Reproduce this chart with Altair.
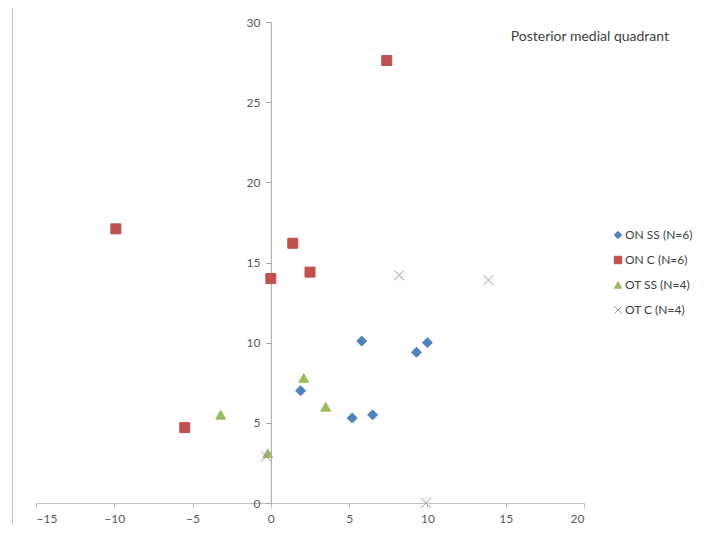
import altair as alt
import pandas as pd

series_names = ["ON SS (N=6)", "ON C (N=6)", "OT SS (N=4)", "OT C (N=4)"]

on_ss_x = [1.9, 5.2, 6.5, 5.8, 9.3, 10.0]
on_ss_y = [7.0, 5.3, 5.5, 10.1, 9.4, 10.0]

on_c_x = [-9.9, -5.5, 0.0, 1.4, 2.5, 7.4]
on_c_y = [17.1, 4.7, 14.0, 16.2, 14.4, 27.6]

ot_ss_x = [-3.2, -0.2, 2.1, 3.5]
ot_ss_y = [5.5, 3.1, 7.8, 6.0]

ot_c_x = [-0.3, 8.2, 13.9, 9.9]
ot_c_y = [2.9, 14.2, 13.9, 0.0]

colors = ["#4F81BD", "#C0504D", "#9BBB59", "#A594C6"]
fills = ["#4F81BD", "#C0504D", "#9BBB59", "transparent"]
shapes = ["diamond", "square", "triangle-up", "M-1,-1L1,1M-1,1L1,-1"]

rows = []
for name, xs, ys in zip(series_names,
                        [on_ss_x, on_c_x, ot_ss_x, ot_c_x],
                        [on_ss_y, on_c_y, ot_ss_y, ot_c_y]):
    for x, y in zip(xs, ys):
        rows.append({"series": name, "x": x, "y": y})
df = pd.DataFrame(rows)

W, H = 548, 481
xmin, xmax = -15, 20
y_offset = -W * (0 - xmin) / (xmax - xmin)

FONT = "Lato"

def leg():
    return alt.Legend(title=None, orient="none", legendX=576, legendY=207,
                      symbolSize=55, labelFontSize=12, labelFont=FONT,
                      labelColor="#404040", rowPadding=13, labelOffset=1,
                      padding=0, symbolStrokeWidth=1)

points = alt.Chart(df).mark_point(filled=False, size=100, strokeWidth=1, opacity=1).encode(
    x=alt.X("x:Q", scale=alt.Scale(domain=[xmin, xmax], nice=False, zero=False),
            axis=alt.Axis(values=[-15, -10, -5, 0, 5, 10, 15, 20], title=None, grid=False,
                          tickSize=5, labelPadding=5, domainColor="#BFBFBF", tickColor="#BFBFBF",
                          labelColor="#595959", labelFontSize=12, labelFont=FONT)),
    y=alt.Y("y:Q", scale=alt.Scale(domain=[0, 30], nice=False),
            axis=alt.Axis(values=[0, 5, 10, 15, 20, 25, 30], title=None, grid=False,
                          tickSize=5, labelPadding=6, offset=y_offset,
                          domainColor="#A6A6A6", tickColor="#A6A6A6",
                          labelColor="#595959", labelFontSize=12, labelFont=FONT)),
    color=alt.Color("series:N", scale=alt.Scale(domain=series_names, range=colors), legend=leg()),
    fill=alt.Fill("series:N", scale=alt.Scale(domain=series_names, range=fills), legend=leg()),
    shape=alt.Shape("series:N", scale=alt.Scale(domain=series_names, range=shapes), legend=leg()),
)

label = alt.Chart(pd.DataFrame({"t": ["Posterior medial quadrant"]})).mark_text(
    align="right", baseline="middle", fontSize=14, font=FONT, color="#404040"
).encode(x=alt.value(633), y=alt.value(15), text="t:N")

border = alt.Chart(pd.DataFrame({"a": [0]})).mark_rect(
    fill="transparent", stroke="#BFBFBF", strokeWidth=1
).encode(x=alt.value(-23.5), x2=alt.value(667.5), y=alt.value(-15.5), y2=alt.value(520))

chart = alt.layer(border, points, label).properties(
    width=W, height=H, padding={"left": 28, "top": 14, "right": 115, "bottom": 22},
    autosize=alt.AutoSizeParams(type="none"),
).configure(background="white").configure_view(stroke=None)

chart.save("out.html", embed_options={"renderer": "svg", "actions": False})
